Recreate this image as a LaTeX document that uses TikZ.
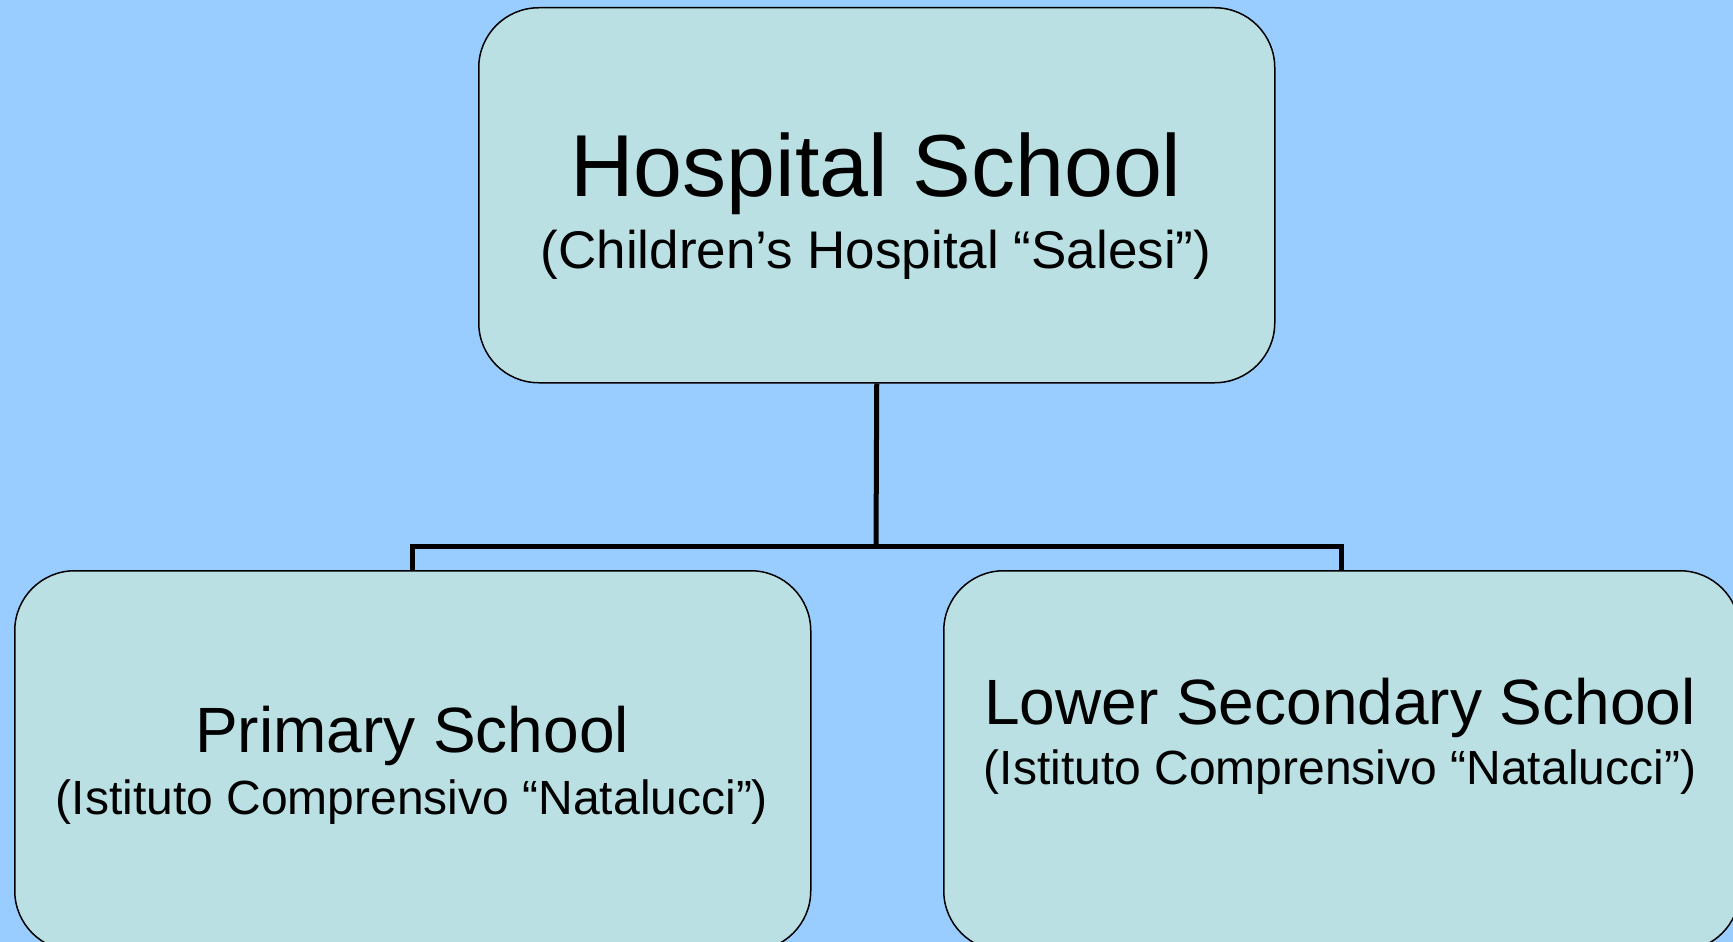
\documentclass[tikz,border=0pt]{standalone}
\usepackage{fontspec}
\setmainfont{Liberation Sans}
\definecolor{bg}{HTML}{99CCFF}
\definecolor{boxfill}{HTML}{BAE0E3}
\begin{document}
\begin{tikzpicture}[x=1pt,y=-1pt,
  orgbox/.style={draw=black, line width=1.5pt, fill=boxfill, rounded corners=60pt,
    minimum width=796pt, inner sep=0pt, anchor=north west},
  link/.style={draw=black, line width=5pt, line join=miter},
  titletext/.style={anchor=base, inner sep=0pt, font=\fontsize{#1}{#1}\selectfont}]
\fill[bg] (0,0) rectangle (1733,942);
\useasboundingbox (0,0) rectangle (1733,942);
\node[orgbox, minimum height=375pt] (top) at (478,7) {};
\node[orgbox, minimum height=380pt] (left) at (14,570) {};
\node[orgbox, minimum height=380pt] (right) at (943,570) {};
\coordinate (junc) at (876,546);
\draw[link] (top.south) -- (junc);
\draw[link] (left.north) |- (junc) -| (right.north);
\node[titletext=88] (t1) at (876,196) {Hospital School};
\node[titletext=53] (t2) at (876,268) {(Children’s Hospital “Salesi”)};
\node[titletext=64] (l1) at (412,752) {Primary School};
\node[titletext=48] (l2) at (412,814) {(Istituto Comprensivo “Natalucci”)};
\node[titletext=64] (r1) at (1340,724) {Lower Secondary School};
\node[titletext=48] (r2) at (1340,784) {(Istituto Comprensivo “Natalucci”)};
\end{tikzpicture}
\end{document}
